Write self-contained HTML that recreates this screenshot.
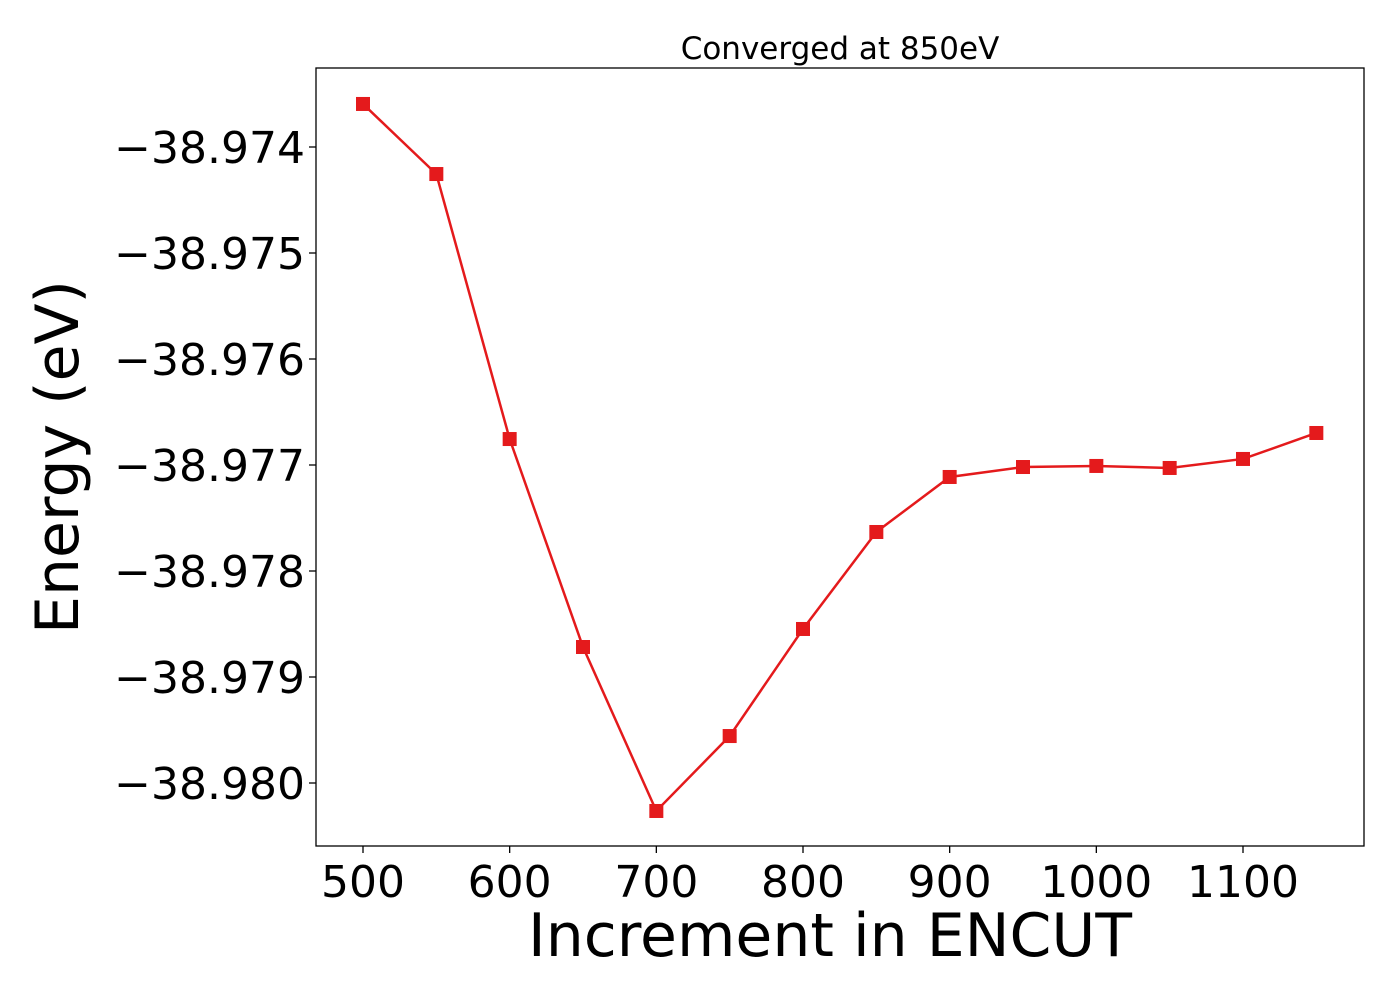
<!DOCTYPE html>
<html><head><meta charset="utf-8"><style>
html,body{margin:0;padding:0;background:#fff;}
svg text{font-family:"DejaVu Sans","Liberation Sans",sans-serif;fill:#000;}
</style></head><body>
<svg id="chart" width="1400" height="1000" xmlns="http://www.w3.org/2000/svg">
<rect width="1400" height="1000" fill="#fff"/>
<g id="plot"></g>
</svg>
<script>
const encutValues = [500,550,600,650,700,750,800,850,900,950,1000,1050,1100,1150];
const energyValues = [-38.973594,-38.974255,-38.976755,-38.978717,-38.980264,-38.979557,-38.978547,-38.977632,-38.977113,-38.977019,-38.977009,-38.977028,-38.976943,-38.976698];
const xTickValues = [500,600,700,800,900,1000,1100];
const yTickValues = [-38.974,-38.975,-38.976,-38.977,-38.978,-38.979,-38.980];
const yTickLabels = ["\u221238.974","\u221238.975","\u221238.976","\u221238.977","\u221238.978","\u221238.979","\u221238.980"];

const NS="http://www.w3.org/2000/svg";
const g=document.getElementById('plot');
const L=316,R=1364,T=68,B=846;
function xs(v){return 363+(v-500)*(1243-363)/600;}
function ys(v){return 147+(-38.974-v)*106000;}
function mk(t,a){const e=document.createElementNS(NS,t);for(const k in a)e.setAttribute(k,a[k]);g.appendChild(e);return e;}

let e;
e=mk('rect',{x:L,y:T,width:R-L,height:B-T,fill:'none',stroke:'#000','stroke-width':1.3});



xTickValues.forEach(v=>{
  const x=xs(v);
  e=mk('line',{x1:x,x2:x,y1:B,y2:B+7,stroke:'#000','stroke-width':1.3});
  
  
  e=mk('text',{x:x,y:B+51,'text-anchor':'middle','font-size':44});
  e.textContent=v;
  
  
});
yTickValues.forEach((v,i)=>{
  const y=ys(v);
  e=mk('line',{x1:L-7,x2:L,y1:y,y2:y,stroke:'#000','stroke-width':1.3});
  
  
  e=mk('text',{x:305,y:y+16,'text-anchor':'end','font-size':44});
  e.textContent=yTickLabels[i];
  
  
});

const pts=encutValues.map((v,i)=>xs(v)+','+ys(energyValues[i])).join(' ');
e=mk('polyline',{points:pts,fill:'none',stroke:'#e41a1c','stroke-width':2.5});


encutValues.forEach((v,i)=>{
  e=mk('rect',{x:xs(v)-7,y:ys(energyValues[i])-7,width:14,height:14,fill:'#e41a1c'});
  
  
});

e=mk('text',{x:840,y:59,'text-anchor':'middle','font-size':31});
e.textContent='Converged at 850eV';


e=mk('text',{x:830,y:956,'text-anchor':'middle','font-size':60});
e.textContent='Increment in ENCUT';


e=mk('text',{x:0,y:0,'text-anchor':'middle','font-size':60,transform:'translate(78,457) rotate(-90)'});
e.textContent='Energy (eV)';


</script>
</body></html>
